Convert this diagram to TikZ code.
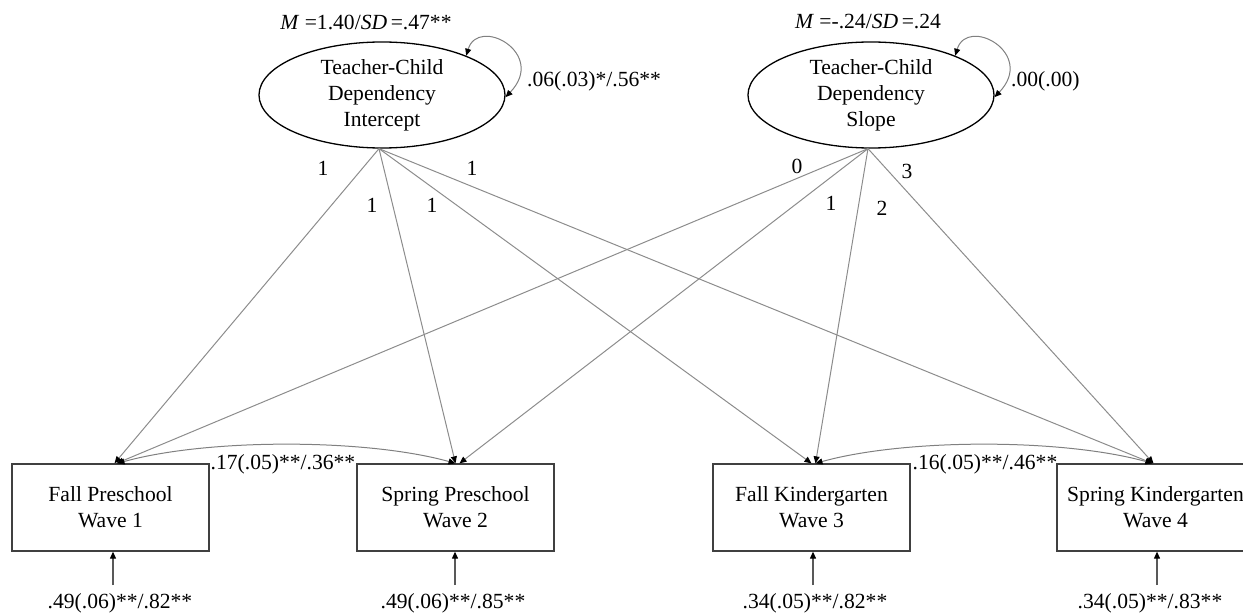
\documentclass[tikz,border=0pt]{standalone}
\usepackage{fontspec}
\setmainfont{Liberation Serif}
\usetikzlibrary{arrows.meta,shapes.geometric}
\begin{document}
\begin{tikzpicture}[x=1pt,y=-1pt,
  every node/.style={font=\fontsize{21.6}{26}\selectfont,inner sep=0pt},
  latent/.style={ellipse,draw=black,line width=1.3pt,minimum width=246pt,minimum height=106pt,align=center},
  observed/.style={rectangle,draw=black!75,line width=1.3pt,minimum width=197pt,minimum height=87pt,align=center},
  loadarr/.style={draw=black!45,line width=1pt,-{Triangle[length=7pt,width=6pt,color=black]}},
  covarr/.style={draw=black!50,line width=1pt,{Triangle[length=7pt,width=6pt,color=black]}-{Triangle[length=7pt,width=6pt,color=black]}},
  errarr/.style={draw=black!65,line width=1.1pt,-{Triangle[length=7pt,width=6pt,color=black]}},
  coef/.style={anchor=center}
]
\useasboundingbox (0,0) rectangle (1243,615);

% latent factors
\node[latent] (I) at (382,95) {Teacher-Child\\Dependency\\Intercept};
\node[latent] (S) at (871,95) {Teacher-Child\\Dependency\\Slope};
\node[coef] (IM) at (366,22) {\textit{M} =1.40/\textit{SD}\,=.47**};
\node[coef] (SM) at (868,22) {\textit{M} =-.24/\textit{SD}\,=.24};

% variance loops
\draw[covarr] (I.25) .. controls +(12,-40) and +(42,-44) .. (I.-1);
\draw[covarr] (S.25) .. controls +(12,-40) and +(42,-44) .. (S.-1);
\node[coef,anchor=west] (IV) at (527,81) {.06(.03)*/.56**};
\node[coef,anchor=west] (SV) at (1011,81) {.00(.00)};

% observed
\node[observed] (b1) at (110.5,507.5) {Fall Preschool\\Wave 1};
\node[observed] (b2) at (455.5,507.5) {Spring Preschool\\Wave 2};
\node[observed] (b3) at (811.5,507.5) {Fall Kindergarten\\Wave 3};
\node[observed] (b4) at (1155.5,507.5) {Spring Kindergarten\\Wave 4};

% loadings
\draw[loadarr] ([xshift=-3pt]I.south) -- ([xshift=4pt]b1.north);
\draw[loadarr] ([xshift=-3pt]I.south) -- (b2.north);
\draw[loadarr] ([xshift=-3pt]I.south) -- (b3.north);
\draw[loadarr] ([xshift=-3pt]I.south) -- ([xshift=-3pt]b4.north);
\draw[loadarr] ([xshift=-3pt]S.south) -- ([xshift=6pt]b1.north);
\draw[loadarr] ([xshift=-3pt]S.south) -- ([xshift=4pt]b2.north);
\draw[loadarr] ([xshift=-3pt]S.south) -- ([xshift=4pt]b3.north);
\draw[loadarr] ([xshift=-3pt]S.south) -- ([xshift=-2pt]b4.north);

\node[coef] (l1) at (323,168) {1};
\node[coef] (l2) at (372,205) {1};
\node[coef] (l3) at (432,205) {1};
\node[coef] (l4) at (472,168) {1};
\node[coef] (s0) at (797,166) {0};
\node[coef] (s1) at (831,203) {1};
\node[coef] (s2) at (882,208) {2};
\node[coef] (s3) at (907,171) {3};

% covariances
\draw[covarr] ([xshift=7pt]b1.north) .. controls +(90,-25) and +(-90,-25) .. (b2.north);
\draw[covarr] ([xshift=4pt]b3.north) .. controls +(90,-25) and +(-90,-25) .. ([xshift=-3pt]b4.north);
\node[coef] (c12) at (283,464) {.17(.05)**/.36**};
\node[coef] (c34) at (985,464) {.16(.05)**/.46**};

% residuals
\coordinate (e1) at (113,585);
\coordinate (e2) at (455,585);
\coordinate (e3) at (813,585);
\coordinate (e4) at (1157,585);
\draw[errarr] (e1) -- (e1 |- b1.south);
\draw[errarr] (e2) -- (e2 |- b2.south);
\draw[errarr] (e3) -- (e3 |- b3.south);
\draw[errarr] (e4) -- (e4 |- b4.south);
\node[coef] (r1) at (120,603) {.49(.06)**/.82**};
\node[coef] (r2) at (453,603) {.49(.06)**/.85**};
\node[coef] (r3) at (815,603) {.34(.05)**/.82**};
\node[coef] (r4) at (1150,603) {.34(.05)**/.83**};
\end{tikzpicture}
\end{document}
